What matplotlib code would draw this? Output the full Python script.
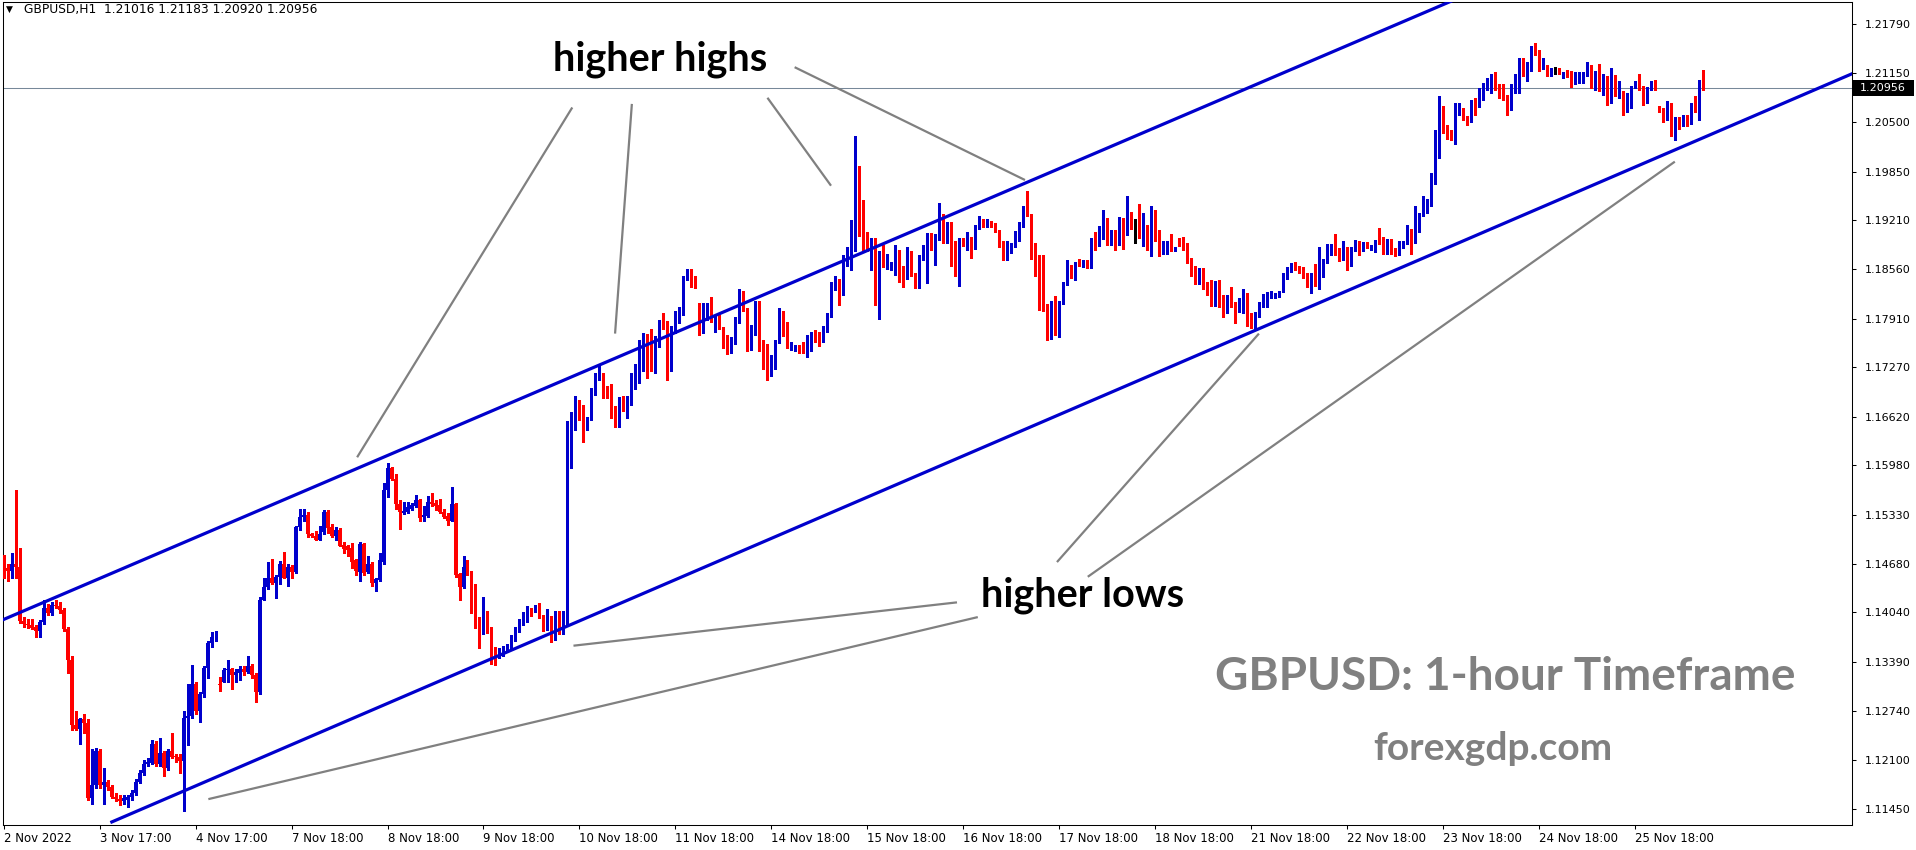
import matplotlib
matplotlib.use('Agg')
import matplotlib.pyplot as plt
import numpy as np
from matplotlib.patches import Rectangle
from matplotlib.transforms import blended_transform_factory

# GBPUSD H1 candles, prices in pips (1e-4), bar 0 = 2 Nov 2022 17:00
opens = [
    11468, 11463, 11459, 11468, 11464, 11393, 11389, 11387, 11385, 11380, 11391, 11410,
    11403, 11414, 11412, 11407, 11382, 11342, 11256, 11250, 11263, 11258, 11159, 11177,
    11222, 11177, 11181, 11174, 11161, 11158, 11156, 11157, 11161, 11166, 11181, 11193,
    11204, 11206, 11231, 11204, 11219, 11199, 11222, 11214, 11213, 11208, 11265, 11267,
    11310, 11274, 11296, 11331, 11364, 11371, 11310, 11313, 11328, 11330, 11322, 11324,
    11329, 11326, 11333, 11321, 11299, 11421, 11437, 11450, 11443, 11451, 11468, 11450,
    11464, 11457, 11516, 11530, 11533, 11507, 11505, 11500, 11510, 11537, 11517, 11505,
    11513, 11493, 11491, 11489, 11473, 11457, 11494, 11457, 11468, 11443, 11447, 11470,
    11565, 11594, 11580, 11547, 11535, 11536, 11540, 11544, 11552, 11530, 11531, 11550,
    11548, 11545, 11537, 11531, 11525, 11547, 11455, 11438, 11465, 11457, 11412, 11396,
    11377, 11396, 11381, 11353, 11346, 11349, 11355, 11356, 11368, 11379, 11388, 11393,
    11408, 11406, 11410, 11398, 11384, 11389, 11369, 11400, 11377, 11393, 11609, 11658,
    11682, 11676, 11646, 11659, 11698, 11715, 11716, 11696, 11696, 11671, 11651, 11686,
    11673, 11680, 11710, 11710, 11747, 11769, 11757, 11726, 11761, 11785, 11783, 11737,
    11778, 11796, 11801, 11843, 11855, 11847, 11801, 11776, 11797, 11800, 11789, 11794,
    11779, 11768, 11749, 11765, 11790, 11825, 11803, 11762, 11772, 11812, 11761, 11737,
    11728, 11727, 11760, 11800, 11782, 11754, 11750, 11754, 11752, 11747, 11750, 11769,
    11768, 11763, 11776, 11794, 11831, 11841, 11826, 11869, 11872, 11912, 11970, 11924,
    11897, 11887, 11895, 11823, 11877, 11863, 11862, 11863, 11880, 11850, 11845, 11878,
    11850, 11837, 11870, 11881, 11895, 11884, 11897, 11925, 11904, 11916, 11873, 11852,
    11894, 11888, 11897, 11884, 11912, 11921, 11914, 11916, 11914, 11907, 11890, 11880,
    11881, 11888, 11898, 11913, 11936, 11928, 11888, 11869, 11855, 11808, 11766, 11790,
    11780, 11811, 11837, 11855, 11852, 11865, 11862, 11864, 11859, 11892, 11888, 11897,
    11920, 11893, 11905, 11902, 11920, 11907, 11929, 11912, 11912, 11901, 11909, 11886,
    11932, 11903, 11881, 11881, 11893, 11884, 11896, 11888, 11886, 11868, 11859, 11838,
    11857, 11837, 11834, 11811, 11820, 11817, 11806, 11821, 11811, 11808, 11810, 11820,
    11786, 11784, 11794, 11807, 11816, 11820, 11822, 11822, 11827, 11844, 11854, 11860,
    11859, 11857, 11846, 11834, 11850, 11836, 11861, 11865, 11876, 11885, 11878, 11870,
    11881, 11880, 11883, 11892, 11882, 11890, 11884, 11886, 11894, 11892, 11884, 11895,
    11881, 11879, 11887, 11891, 11906, 11893, 11921, 11928, 11940, 11943, 11972, 12021,
    12069, 12041, 12031, 12027, 12067, 12068, 12055, 12052, 12079, 12076, 12090, 12093,
    12104, 12111, 12096, 12085, 12084, 12067, 12094, 12111, 12128, 12118, 12118, 12149,
    12142, 12123, 12126, 12113, 12120, 12120, 12110, 12118, 12113, 12103, 12103, 12108,
    12112, 12126, 12101, 12114, 12092, 12111, 12081, 12111, 12087, 12090, 12080, 12084,
    12096, 12102, 12096, 12088, 12094, 12098, 12069, 12067, 12053, 12070, 12039, 12055,
    12048, 12057, 12050, 12069, 12067, 12101.6,
]
highs = [
    11480, 11468, 11482, 11565, 11489, 11398, 11396, 11396, 11387, 11394, 11421, 11415,
    11418, 11421, 11418, 11410, 11385, 11346, 11274, 11265, 11270, 11263, 11224, 11226,
    11224, 11199, 11183, 11177, 11166, 11164, 11163, 11164, 11170, 11184, 11197, 11209,
    11212, 11236, 11235, 11238, 11221, 11224, 11245, 11217, 11217, 11274, 11310, 11335,
    11313, 11299, 11334, 11367, 11378, 11379, 11319, 11331, 11341, 11331, 11329, 11333,
    11333, 11346, 11336, 11324, 11425, 11450, 11470, 11475, 11454, 11472, 11484, 11468,
    11466, 11518, 11540, 11540, 11536, 11509, 11511, 11518, 11539, 11539, 11520, 11516,
    11515, 11497, 11493, 11496, 11475, 11497, 11496, 11479, 11470, 11450, 11482, 11574,
    11601, 11596, 11587, 11552, 11549, 11549, 11548, 11559, 11553, 11544, 11557, 11561,
    11552, 11553, 11541, 11535, 11569, 11548, 11456, 11479, 11473, 11458, 11442, 11398,
    11425, 11406, 11385, 11359, 11357, 11360, 11362, 11374, 11385, 11395, 11404, 11412,
    11410, 11414, 11416, 11400, 11409, 11399, 11406, 11406, 11406, 11656, 11668, 11689,
    11684, 11677, 11662, 11700, 11720, 11732, 11719, 11702, 11705, 11676, 11688, 11689,
    11689, 11720, 11732, 11763, 11772, 11771, 11777, 11768, 11790, 11798, 11788, 11781,
    11801, 11807, 11847, 11856, 11856, 11848, 11812, 11812, 11812, 11820, 11796, 11796,
    11780, 11770, 11767, 11793, 11830, 11827, 11805, 11783, 11814, 11814, 11763, 11758,
    11743, 11763, 11805, 11801, 11787, 11760, 11757, 11757, 11761, 11770, 11774, 11776,
    11774, 11781, 11798, 11840, 11847, 11843, 11875, 11886, 11921, 12032, 11992, 11948,
    11905, 11897, 11897, 11880, 11888, 11877, 11866, 11888, 11882, 11860, 11886, 11880,
    11851, 11875, 11888, 11904, 11904, 11903, 11943, 11929, 11919, 11919, 11893, 11897,
    11897, 11906, 11899, 11915, 11927, 11922, 11923, 11920, 11917, 11908, 11893, 11893,
    11891, 11907, 11919, 11940, 11960, 11929, 11891, 11875, 11875, 11810, 11814, 11821,
    11814, 11840, 11869, 11862, 11866, 11870, 11869, 11869, 11897, 11905, 11913, 11934,
    11924, 11908, 11908, 11925, 11924, 11953, 11932, 11922, 11942, 11931, 11915, 11940,
    11935, 11908, 11893, 11894, 11903, 11886, 11898, 11899, 11891, 11871, 11860, 11858,
    11858, 11839, 11842, 11841, 11842, 11822, 11822, 11833, 11813, 11818, 11830, 11825,
    11799, 11800, 11813, 11824, 11826, 11827, 11825, 11828, 11852, 11859, 11865, 11866,
    11860, 11859, 11851, 11852, 11863, 11885, 11870, 11889, 11889, 11903, 11884, 11894,
    11885, 11885, 11895, 11894, 11892, 11892, 11888, 11895, 11911, 11899, 11896, 11896,
    11884, 11894, 11893, 11915, 11909, 11939, 11931, 11953, 11949, 11983, 12040, 12084,
    12071, 12047, 12040, 12075, 12075, 12069, 12058, 12080, 12082, 12095, 12102, 12108,
    12113, 12116, 12100, 12100, 12086, 12100, 12113, 12135, 12135, 12130, 12150, 12155,
    12145, 12135, 12126, 12122, 12123, 12122, 12116, 12119, 12117, 12116, 12116, 12116,
    12129, 12126, 12117, 12127, 12113, 12111, 12122, 12112, 12104, 12091, 12089, 12098,
    12104, 12114, 12098, 12097, 12104, 12106, 12071, 12069, 12078, 12076, 12057, 12057,
    12059, 12060, 12075, 12085, 12106, 12118.3,
]
lows = [
    11450, 11446, 11450, 11450, 11390, 11385, 11384, 11382, 11371, 11371, 11389, 11401,
    11401, 11410, 11403, 11380, 11324, 11249, 11249, 11231, 11245, 11157, 11152, 11173,
    11173, 11152, 11170, 11159, 11156, 11150, 11152, 11147, 11157, 11164, 11179, 11190,
    11202, 11204, 11202, 11202, 11188, 11197, 11212, 11207, 11193, 11143, 11229, 11265,
    11270, 11260, 11292, 11317, 11358, 11367, 11301, 11312, 11313, 11303, 11313, 11315,
    11322, 11324, 11317, 11286, 11296, 11420, 11435, 11441, 11423, 11441, 11449, 11439,
    11449, 11456, 11513, 11525, 11504, 11503, 11500, 11500, 11508, 11509, 11504, 11499,
    11491, 11482, 11479, 11462, 11453, 11445, 11454, 11456, 11439, 11432, 11445, 11468,
    11556, 11579, 11541, 11514, 11534, 11535, 11539, 11543, 11525, 11524, 11530, 11544,
    11539, 11535, 11528, 11519, 11524, 11451, 11420, 11436, 11454, 11403, 11383, 11357,
    11376, 11377, 11336, 11335, 11344, 11346, 11353, 11355, 11367, 11378, 11387, 11391,
    11399, 11404, 11397, 11380, 11381, 11365, 11368, 11375, 11376, 11389, 11594, 11645,
    11658, 11628, 11645, 11657, 11691, 11711, 11686, 11687, 11660, 11649, 11649, 11669,
    11660, 11677, 11698, 11707, 11722, 11713, 11722, 11720, 11754, 11777, 11710, 11722,
    11772, 11785, 11796, 11842, 11833, 11831, 11769, 11772, 11790, 11787, 11774, 11777,
    11752, 11744, 11746, 11758, 11785, 11801, 11748, 11750, 11770, 11748, 11725, 11711,
    11715, 11725, 11759, 11768, 11752, 11750, 11748, 11746, 11746, 11741, 11748, 11761,
    11755, 11761, 11774, 11793, 11829, 11809, 11823, 11860, 11855, 11880, 11900, 11882,
    11881, 11855, 11809, 11791, 11859, 11856, 11855, 11849, 11840, 11833, 11843, 11847,
    11831, 11832, 11869, 11838, 11882, 11862, 11895, 11891, 11891, 11860, 11847, 11834,
    11887, 11882, 11871, 11883, 11910, 11912, 11912, 11912, 11905, 11886, 11868, 11868,
    11878, 11886, 11893, 11912, 11926, 11870, 11847, 11802, 11801, 11763, 11765, 11769,
    11767, 11810, 11836, 11845, 11842, 11861, 11859, 11858, 11858, 11882, 11887, 11896,
    11888, 11888, 11882, 11888, 11883, 11902, 11910, 11891, 11898, 11887, 11882, 11874,
    11893, 11874, 11877, 11877, 11881, 11880, 11887, 11882, 11865, 11847, 11837, 11837,
    11830, 11823, 11808, 11808, 11807, 11794, 11799, 11806, 11786, 11800, 11799, 11781,
    11779, 11778, 11793, 11806, 11806, 11819, 11819, 11820, 11826, 11843, 11853, 11855,
    11851, 11845, 11833, 11825, 11834, 11830, 11846, 11864, 11875, 11875, 11867, 11868,
    11855, 11860, 11881, 11875, 11881, 11884, 11882, 11879, 11890, 11877, 11876, 11877,
    11874, 11875, 11884, 11889, 11877, 11891, 11906, 11926, 11930, 11940, 11968, 12003,
    12036, 12028, 12026, 12021, 12060, 12053, 12047, 12051, 12059, 12070, 12080, 12092,
    12089, 12093, 12082, 12080, 12060, 12066, 12089, 12089, 12111, 12104, 12117, 12139,
    12117, 12120, 12111, 12111, 12114, 12114, 12108, 12110, 12097, 12101, 12102, 12102,
    12111, 12095, 12093, 12091, 12086, 12073, 12075, 12085, 12082, 12059, 12064, 12069,
    12095, 12093, 12073, 12075, 12093, 12092, 12064, 12051, 12053, 12032, 12026, 12041,
    12045, 12045, 12048, 12064, 12053, 12092.0,
]
closes = [
    11461, 11459, 11468, 11464, 11393, 11389, 11387, 11384, 11380, 11391, 11410, 11403,
    11414, 11412, 11407, 11382, 11342, 11256, 11250, 11263, 11258, 11159, 11177, 11222,
    11177, 11181, 11174, 11161, 11158, 11156, 11159, 11161, 11166, 11181, 11193, 11204,
    11207, 11231, 11204, 11219, 11199, 11222, 11214, 11213, 11208, 11265, 11267, 11310,
    11274, 11296, 11331, 11364, 11371, 11372, 11308, 11328, 11330, 11322, 11326, 11329,
    11326, 11333, 11321, 11299, 11421, 11437, 11450, 11443, 11451, 11468, 11450, 11464,
    11457, 11516, 11530, 11533, 11507, 11505, 11500, 11507, 11537, 11515, 11505, 11513,
    11492, 11488, 11486, 11471, 11458, 11494, 11456, 11468, 11443, 11448, 11473, 11565,
    11594, 11580, 11547, 11536, 11538, 11543, 11546, 11552, 11529, 11532, 11549, 11547,
    11544, 11536, 11530, 11525, 11547, 11453, 11438, 11464, 11457, 11412, 11395, 11377,
    11396, 11378, 11353, 11346, 11350, 11357, 11360, 11371, 11378, 11389, 11394, 11407,
    11407, 11410, 11398, 11385, 11389, 11369, 11400, 11377, 11395, 11610, 11660, 11682,
    11676, 11645, 11661, 11698, 11716, 11717, 11695, 11695, 11670, 11651, 11686, 11673,
    11681, 11711, 11711, 11748, 11769, 11755, 11725, 11763, 11785, 11781, 11737, 11779,
    11796, 11802, 11843, 11855, 11846, 11833, 11774, 11798, 11801, 11790, 11794, 11779,
    11767, 11749, 11765, 11792, 11825, 11803, 11763, 11772, 11812, 11760, 11737, 11730,
    11731, 11761, 11800, 11781, 11755, 11757, 11754, 11751, 11747, 11751, 11769, 11765,
    11763, 11778, 11794, 11831, 11841, 11825, 11869, 11873, 11913, 11970, 11923, 11898,
    11887, 11894, 11823, 11877, 11863, 11868, 11865, 11880, 11849, 11845, 11877, 11848,
    11837, 11873, 11882, 11895, 11884, 11897, 11926, 11909, 11916, 11873, 11852, 11894,
    11888, 11896, 11884, 11913, 11921, 11914, 11916, 11913, 11906, 11888, 11880, 11881,
    11888, 11899, 11913, 11936, 11927, 11887, 11868, 11853, 11807, 11765, 11790, 11780,
    11812, 11838, 11854, 11852, 11864, 11862, 11866, 11859, 11892, 11887, 11898, 11920,
    11893, 11906, 11902, 11920, 11907, 11929, 11912, 11912, 11901, 11908, 11886, 11932,
    11902, 11880, 11883, 11893, 11885, 11885, 11888, 11885, 11866, 11858, 11837, 11857,
    11837, 11834, 11811, 11820, 11817, 11807, 11821, 11810, 11808, 11811, 11820, 11784,
    11785, 11795, 11808, 11816, 11821, 11824, 11824, 11827, 11846, 11855, 11860, 11859,
    11856, 11846, 11834, 11850, 11836, 11861, 11866, 11877, 11885, 11878, 11870, 11881,
    11880, 11884, 11892, 11883, 11890, 11885, 11887, 11894, 11891, 11885, 11895, 11881,
    11879, 11888, 11891, 11906, 11893, 11922, 11929, 11940, 11945, 11973, 12023, 12068,
    12040, 12029, 12027, 12068, 12068, 12053, 12051, 12079, 12075, 12090, 12094, 12105,
    12111, 12094, 12083, 12082, 12067, 12096, 12111, 12129, 12118, 12119, 12149, 12141,
    12123, 12126, 12113, 12120, 12120, 12115, 12114, 12114, 12103, 12104, 12108, 12113,
    12125, 12101, 12114, 12092, 12111, 12081, 12111, 12086, 12090, 12080, 12085, 12097,
    12101, 12096, 12088, 12096, 12098, 12093, 12067, 12053, 12070, 12039, 12055, 12048,
    12057, 12050, 12069, 12067, 12102, 12095.6,
]

last_price = 1.20956
header = 'GBPUSD,H1  1.21016 1.21183 1.20920 1.20956'

date_ticks = list(range(0, 409, 24))
date_labels = ['2 Nov 2022', '3 Nov 17:00', '4 Nov 17:00', '7 Nov 18:00', '8 Nov 18:00',
               '9 Nov 18:00', '10 Nov 18:00', '11 Nov 18:00', '14 Nov 18:00', '15 Nov 18:00',
               '16 Nov 18:00', '17 Nov 18:00', '18 Nov 18:00', '21 Nov 18:00', '22 Nov 18:00',
               '23 Nov 18:00', '24 Nov 18:00', '25 Nov 18:00']
price_ticks = [1.11450, 1.12100, 1.12740, 1.13390, 1.14040, 1.14680, 1.15330, 1.15980,
               1.16620, 1.17270, 1.17910, 1.18560, 1.19210, 1.19850, 1.20500, 1.21150, 1.21790]

# channel trend lines (bar, price)
upper_line = [(-5, 1.13835), (380, 1.22502)]
lower_line = [(26.7, 1.11271), (470, 1.21316)]

# pointer lines from the labels to the touches
highs_pointers = [((142.2, 1.20695), (88.4, 1.16085)),
                  ((157.1, 1.20742), (152.9, 1.17715)),
                  ((191.0, 1.20823), (206.9, 1.19664)),
                  ((197.8, 1.21226), (255.4, 1.19739))]
lows_pointers = [((238.4, 1.14173), (142.5, 1.13602)),
                 ((243.6, 1.13979), (51.2, 1.11580)),
                 ((263.4, 1.14704), (313.9, 1.17715)),
                 ((271.1, 1.14510), (417.9, 1.19981))]

BLUE = '#0000cc'
RED = '#ff0000'
GRAY = '#808080'

W, H = 1916, 850
fig = plt.figure(figsize=(W / 100, H / 100), dpi=100)
fig.patch.set_facecolor('white')
ax = fig.add_axes([3 / W, 25 / H, 1849 / W, 823 / H])


def fx(px):
    return px / W


def fy(py):
    return 1 - py / H


o = np.array(opens) / 1e4
hi = np.array(highs) / 1e4
lo = np.array(lows) / 1e4
c = np.array(closes) / 1e4
x = np.arange(len(c))

cols = np.where(c > o, BLUE, np.where(c < o, RED, 'black'))
ax.vlines(x, lo, hi, colors=cols, lw=0.75, antialiased=False, zorder=3)
body = np.maximum(np.abs(c - o), 0.00013)
ax.bar(x, body, bottom=np.minimum(o, c), width=0.8, color=cols, linewidth=0,
       antialiased=False, zorder=4)

ax.axhline(last_price, color='#778899', lw=0.75, zorder=1)

for ln in (upper_line, lower_line):
    ax.plot([ln[0][0], ln[1][0]], [ln[0][1], ln[1][1]], color=BLUE, lw=2.3, zorder=5,
            solid_capstyle='butt')

for p0, p1 in highs_pointers + lows_pointers:
    ax.plot([p0[0], p1[0]], [p0[1], p1[1]], color=GRAY, lw=1.6, zorder=5,
            solid_capstyle='butt')

ax.set_xlim(-0.15, 462.2)
ax.set_ylim(1.11239, 1.22085)

ax.set_xticks(date_ticks)
ax.set_xticklabels(date_labels, ha='left')
ax.yaxis.tick_right()
ax.set_yticks(price_ticks)
ax.set_yticklabels(['%.5f' % v for v in price_ticks])
ax.tick_params(axis='x', direction='out', length=3, width=0.75, pad=2, labelsize=8.5)
ax.tick_params(axis='y', direction='out', length=3, width=0.75, pad=6, labelsize=8)
for s in ax.spines.values():
    s.set_linewidth(0.75)
    s.set_color('black')

# current price tag on the axis
trans = blended_transform_factory(fig.transFigure, ax.transData)
ax.add_patch(Rectangle((fx(1853), last_price - 0.00105), 61 / W, 0.0021, transform=trans,
                       facecolor='black', edgecolor='none', clip_on=False, zorder=6))
ax.text(fx(1860), last_price, '%.5f' % last_price, transform=trans, color='white',
        fontsize=8, va='center', ha='left', zorder=7, clip_on=False)

# header
fig.text(fx(6), fy(9), '\u25bc', fontsize=6.5, va='center', ha='left')
fig.text(fx(24), fy(9), header, fontsize=8.8, va='center', ha='left')

# labels
fig.text(fx(660), fy(71), 'higher highs', fontsize=28.5, fontweight='bold', family='Lato',
         ha='center', va='baseline', color='black')
fig.text(fx(1083), fy(606), 'higher lows', fontsize=28.5, fontweight='bold', family='Lato',
         ha='center', va='baseline', color='black')
fig.text(fx(1215), fy(690), 'GBPUSD: 1-hour Timeframe', fontsize=33, fontweight='bold',
         family='Lato', ha='left', va='baseline', color=GRAY)
fig.text(fx(1373), fy(760), 'forexgdp.com', fontsize=28, fontweight='bold',
         family='Lato', ha='left', va='baseline', color=GRAY)

fig.savefig('out.png', dpi=100)
